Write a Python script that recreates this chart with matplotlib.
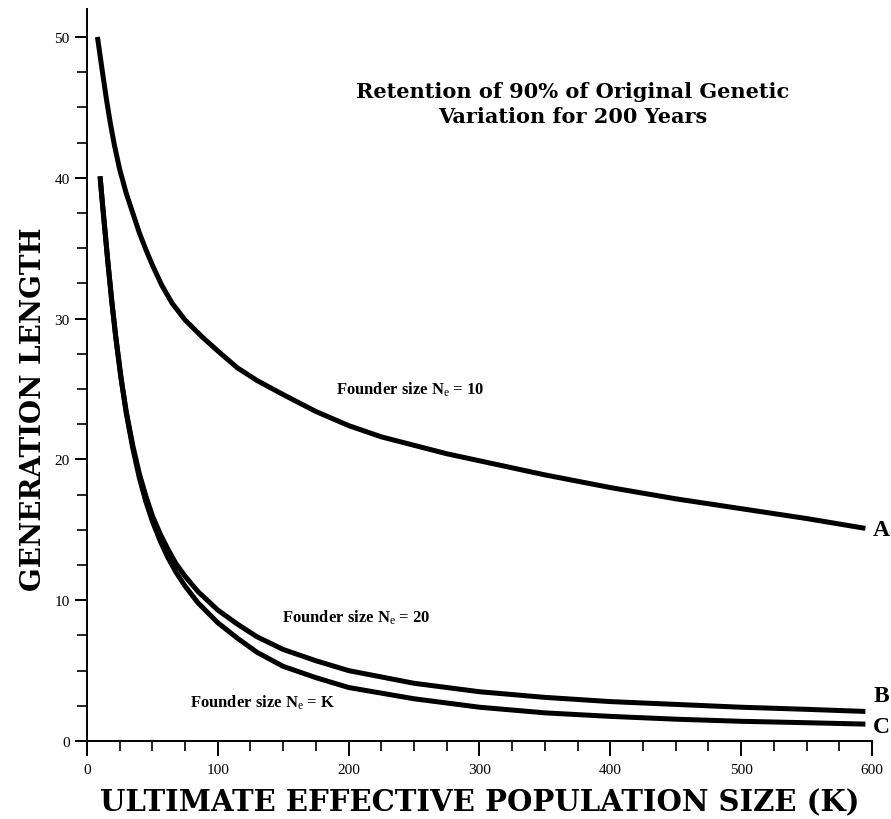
import numpy as np
import matplotlib
matplotlib.use("Agg")
import matplotlib.pyplot as plt
from matplotlib.ticker import MultipleLocator

plt.rcParams['font.family'] = ['Liberation Serif', 'DejaVu Serif']
plt.rcParams['mathtext.fontset'] = 'custom'
plt.rcParams['mathtext.rm'] = 'Liberation Serif'
plt.rcParams['mathtext.it'] = 'Liberation Serif'
plt.rcParams['mathtext.bf'] = 'Liberation Serif:bold'

# ---- data ----
# curve A: founder size Ne = 10
a_x = [8, 10, 12, 15, 18, 21, 25, 30, 35, 40, 45, 50, 57, 65, 75, 88, 100, 115, 130, 150,
       175, 200, 225, 250, 275, 300, 350, 400, 450, 500, 550, 595]
a_y = [50, 48.7, 47.4, 45.5, 43.8, 42.3, 40.6, 38.9, 37.5, 36.1, 34.9, 33.8, 32.4, 31.1, 29.9,
       28.7, 27.7, 26.5, 25.6, 24.6, 23.4, 22.4, 21.6, 21.0, 20.4, 19.9, 18.9, 18.0, 17.2,
       16.5, 15.8, 15.1]

# curve B: founder size Ne = 20
b_x = [10, 12, 14, 16, 19, 22, 26, 30, 35, 40, 45, 50, 56, 62, 68, 75, 85, 100, 115, 130,
       150, 175, 200, 250, 300, 350, 400, 450, 500, 550, 595]
b_y = [40.1, 38.0, 36.0, 34.0, 31.2, 28.7, 25.8, 23.4, 21.0, 19.0, 17.4, 16.0, 14.7, 13.6,
       12.6, 11.7, 10.6, 9.3, 8.3, 7.4, 6.5, 5.7, 5.0, 4.1, 3.5, 3.1, 2.8, 2.6, 2.4, 2.25, 2.1]

# curve C: founder size Ne = K
c_x = [10, 12, 14, 16, 19, 22, 26, 30, 35, 40, 45, 50, 56, 62, 68, 75, 85, 100, 115, 130,
       150, 175, 200, 250, 300, 350, 400, 450, 500, 550, 595]
c_y = [40.1, 38.0, 36.0, 34.0, 31.2, 28.7, 25.8, 23.3, 20.8, 18.7, 17.0, 15.6, 14.2, 13.0,
       12.0, 11.0, 9.8, 8.4, 7.3, 6.3, 5.3, 4.5, 3.8, 3.0, 2.4, 2.0, 1.75, 1.55, 1.4, 1.3, 1.2]

curve_names = ['A', 'B', 'C']
curve_notes = ['Founder size N$_e$ = 10', 'Founder size N$_e$ = 20', 'Founder size N$_e$ = K']

fig = plt.figure(figsize=(8.91, 8.2), dpi=100)
ax = fig.add_axes([0.0976, 0.0951, 0.881, 0.893])

for xs, ys in [(a_x, a_y), (b_x, b_y), (c_x, c_y)]:
    ax.plot(xs, ys, color='black', lw=3.6, solid_capstyle='butt', solid_joinstyle='round')

# end labels
ax.text(601, 15.0, curve_names[0], fontsize=17, fontweight='bold', va='center', ha='left')
ax.text(601, 3.2, curve_names[1], fontsize=17, fontweight='bold', va='center', ha='left')
ax.text(601, 1.0, curve_names[2], fontsize=17, fontweight='bold', va='center', ha='left')

# curve notes
ax.text(190, 25.0, curve_notes[0], fontsize=12, fontweight='bold', va='center', ha='left')
ax.text(149, 8.8, curve_notes[1], fontsize=12, fontweight='bold', va='center', ha='left')
ax.text(79, 2.8, curve_notes[2], fontsize=12, fontweight='bold', va='center', ha='left')

ax.text(371, 45.3, 'Retention of 90% of Original Genetic\nVariation for 200 Years',
        fontsize=15, fontweight='bold', family='DejaVu Serif',
        ha='center', va='center', linespacing=1.3)

ax.set_xlim(0, 600)
ax.set_ylim(0, 52)
ax.xaxis.set_major_locator(MultipleLocator(100))
ax.xaxis.set_minor_locator(MultipleLocator(25))
ax.yaxis.set_major_locator(MultipleLocator(10))
ax.yaxis.set_minor_locator(MultipleLocator(2.5))

for s in ['top', 'right']:
    ax.spines[s].set_visible(False)
for s in ['left', 'bottom']:
    ax.spines[s].set_linewidth(1.4)
ax.tick_params(which='major', direction='out', length=9, width=1.4, labelsize=11)
ax.tick_params(which='minor', direction='out', length=7, width=1.2)
ax.xaxis.set_tick_params(which='major', length=11, pad=5)

ax.set_xlabel('ULTIMATE EFFECTIVE POPULATION SIZE (K)', fontsize=21, fontweight='bold',
              family='DejaVu Serif', labelpad=8)
ax.set_ylabel('GENERATION LENGTH', fontsize=20, fontweight='bold',
              family='DejaVu Serif', labelpad=5, y=0.455)

fig.savefig('out.png', dpi=100)
